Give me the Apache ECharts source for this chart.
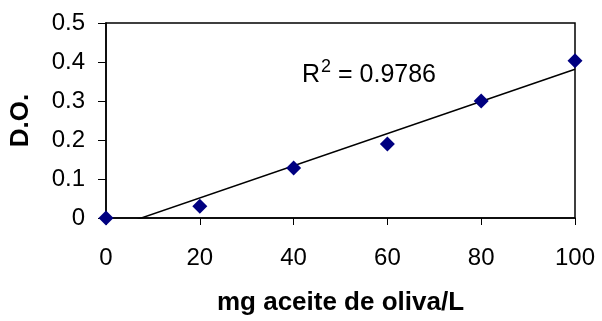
<!DOCTYPE html>
<html>
<head>
    <meta charset="utf-8">
    <title>D.O. vs mg aceite de oliva/L</title>
    <script src="https://cdn.jsdelivr.net/npm/echarts@6/dist/echarts.min.js"></script>
    <style type="text/css">
        body{ margin: 0; background: #fff; }
        #chart{ width: 602px; height: 321px; }
    </style>
</head>
<body>
<div id="chart"></div>
<script>
    // datos
    var conc = [0, 20, 40, 60, 80, 100];
    var absorb = [0, 0.03, 0.128, 0.19, 0.30, 0.403];
    var xTicks = [0, 20, 40, 60, 80, 100];
    var yTicks = [0, 0.1, 0.2, 0.3, 0.4, 0.5];
    var r2Text = '0.9786';

    // linea de tendencia lineal (minimos cuadrados), como en Excel
    function linFit(xs, ys){
        let n = xs.length, sx = 0, sy = 0, sxx = 0, sxy = 0;
        for(let i = 0; i < n; i++){
            sx += xs[i]; sy += ys[i];
            sxx += xs[i]*xs[i]; sxy += xs[i]*ys[i];
        }
        let m = (n*sxy - sx*sy)/(n*sxx - sx*sx);
        let b = (sy - m*sx)/n;
        return {m: m, b: b};
    }
    var fit = linFit(conc, absorb);
    var xMin = xTicks[0], xMax = xTicks[xTicks.length-1];
    var trend = [[xMin, fit.m*xMin + fit.b], [xMax, fit.m*xMax + fit.b]];

    var font = '"Liberation Sans", Arial, sans-serif';
    var myChart = echarts.init(document.getElementById('chart'));

    var option = {
        animation: false,
        grid: {left: 105, right: 27, top: 23, bottom: 98, show: true, borderColor: '#000', borderWidth: 1.5},
        xAxis: {
            type: 'value', min: xMin, max: xMax, interval: 20,
            name: 'mg aceite de oliva/L', nameLocation: 'middle', nameGap: 72,
            nameTextStyle: {fontFamily: font, fontSize: 26, fontWeight: 'bold', color: '#000'},
            axisLine: {show: true, lineStyle: {color: '#000', width: 1.5}},
            axisTick: {show: true, length: 7, lineStyle: {color: '#000'}},
            axisLabel: {fontFamily: font, fontSize: 24, color: '#000', margin: 28},
            splitLine: {show: false}
        },
        yAxis: {
            type: 'value', min: yTicks[0], max: yTicks[yTicks.length-1], interval: 0.1,
            name: 'D.O.', nameLocation: 'middle', nameGap: 72,
            nameTextStyle: {fontFamily: font, fontSize: 26, fontWeight: 'bold', color: '#000'},
            axisLine: {show: true, lineStyle: {color: '#000', width: 1.5}},
            axisTick: {show: true, length: 8, lineStyle: {color: '#000'}},
            axisLabel: {fontFamily: font, fontSize: 24, color: '#000', margin: 21,
                formatter: function(v){ return String(Math.round(v*10)/10); }},
            splitLine: {show: false}
        },
        graphic: [
            {type: 'text', left: 302, top: 63, silent: true,
                style: {text: 'R', font: '25px ' + font, fill: '#000'}},
            {type: 'text', left: 321, top: 58, silent: true,
                style: {text: '2', font: '18px ' + font, fill: '#000'}},
            {type: 'text', left: 338, top: 63, silent: true,
                style: {text: '= ' + r2Text, font: '25px ' + font, fill: '#000'}}
        ],
        series: [
            {
                type: 'line', data: trend, symbol: 'none', clip: true,
                lineStyle: {color: '#000', width: 1.5}, silent: true, z: 2
            },
            {
                type: 'scatter', data: conc.map(function(x, i){ return [x, absorb[i]]; }),
                symbol: 'diamond', symbolSize: [15, 15], clip: false,
                itemStyle: {color: '#000080', opacity: 1}, z: 3
            }
        ]
    };
    myChart.setOption(option);
</script>
</body>
</html>
